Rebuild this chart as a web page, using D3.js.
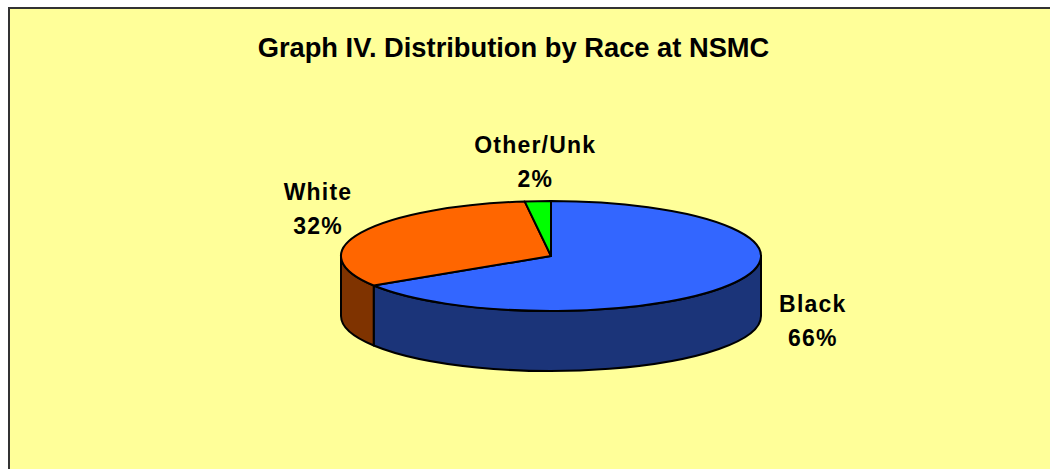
<!DOCTYPE html>
<html>
<head>
<meta charset="utf-8">
<script src="https://cdn.jsdelivr.net/npm/d3@7"></script>
<style>
  html, body { margin: 0; padding: 0; background: #fff; }
  svg { display: block; font-family: "Liberation Sans", Arial, sans-serif; }
</style>
</head>
<body>
<div id="chart"></div>
<script>
/* --- data ---------------------------------------------------------------- */
const categories = ["Black", "White", "Other/Unk"];
const values     = [66, 32, 2];
const labels     = ["66%", "32%", "2%"];
const topColors  = ["#3366FF", "#FF6600", "#00FF00"];
const sideColors = ["#1B3479", "#7F3300", "#008000"];
const title = "Graph IV. Distribution by Race at NSMC";

/* --- layout -------------------------------------------------------------- */
const W = 1050, H = 469;
const cx = 551, cy = 256, rx = 210, ry = 55, depth = 60;
const labelNudge = { "Black": [33, 6], "White": [2, 8], "Other/Unk": [0, 0] };

const svg = d3.select("#chart").append("svg")
  .attr("width", W).attr("height", H);

// yellow plot area with the frame cut off at right / bottom
svg.append("rect")
  .attr("x", 9).attr("y", 8)
  .attr("width", W + 20).attr("height", H + 20)
  .attr("fill", "#FFFF99")
  .attr("stroke", "#333").attr("stroke-width", 2);

svg.append("text")
  .attr("x", 513.5).attr("y", 56.5)
  .attr("text-anchor", "middle")
  .style("font-size", "27.3px").style("font-weight", "bold")
  .text(title);

/* --- pie geometry -------------------------------------------------------- */
const rows = categories.map((c, i) => ({ cat: c, value: values[i], label: labels[i], i }));
const arcs = d3.pie().sort(null).value(d => d.value)(rows);

const colTop  = d3.scaleOrdinal().domain(categories).range(topColors);
const colSide = d3.scaleOrdinal().domain(categories).range(sideColors);

// angle measured clockwise from 12 o'clock, like d3.pie
const pt = (a, dy = 0) => [cx + rx * Math.sin(a), cy - ry * Math.cos(a) + dy];

const wallPath = (a0, a1) => {
  const p0 = pt(a0), p1 = pt(a1), q1 = pt(a1, depth), q0 = pt(a0, depth);
  return `M${p0}A${rx},${ry} 0 0 1 ${p1}L${q1}A${rx},${ry} 0 0 0 ${q0}Z`;
};
const topPath = d => {
  const p0 = pt(d.startAngle), p1 = pt(d.endAngle);
  const large = d.endAngle - d.startAngle > Math.PI ? 1 : 0;
  return `M${cx},${cy}L${p0}A${rx},${ry} 0 ${large} 1 ${p1}Z`;
};

/* --- outer walls (front half only) -------------------------------------- */
const walls = arcs.map(d => ({
  d,
  a0: Math.max(d.startAngle, Math.PI / 2),
  a1: Math.min(d.endAngle, 3 * Math.PI / 2)
})).filter(w => w.a1 > w.a0);

svg.append("g").selectAll("path")
  .data(walls)
  .join("path")
    .attr("d", w => wallPath(w.a0, w.a1))
    .attr("fill", w => colSide(w.d.data.cat))
    .attr("stroke", "#000").attr("stroke-width", 2)
    .attr("stroke-linejoin", "round");

/* --- top faces ----------------------------------------------------------- */
svg.append("g").selectAll("path")
  .data(arcs)
  .join("path")
    .attr("d", topPath)
    .attr("fill", d => colTop(d.data.cat))
    .attr("stroke", "#000").attr("stroke-width", 2)
    .attr("stroke-linejoin", "round");

/* --- labels -------------------------------------------------------------- */
svg.append("g").selectAll("text")
  .data(arcs)
  .join("text")
    .attr("text-anchor", "middle")
    .style("font-size", "23px").style("font-weight", "bold")
    .style("letter-spacing", "1.2px")
    .each(function(d) {
      const m = (d.startAngle + d.endAngle) / 2;
      const [ax, ay] = [cx + rx * 1.24 * Math.sin(m), cy - ry * 1.24 * Math.cos(m)];
      const n = labelNudge[d.data.cat];
      const x = ax + n[0] + 0.6;
      const y = ay - Math.sign(Math.cos(m)) * 26 + n[1];
      const t = d3.select(this);
      t.append("tspan").attr("x", x).attr("y", y - 9).text(d.data.cat);
      t.append("tspan").attr("x", x).attr("y", y + 25).text(d.data.label);
    });
</script>
</body>
</html>
